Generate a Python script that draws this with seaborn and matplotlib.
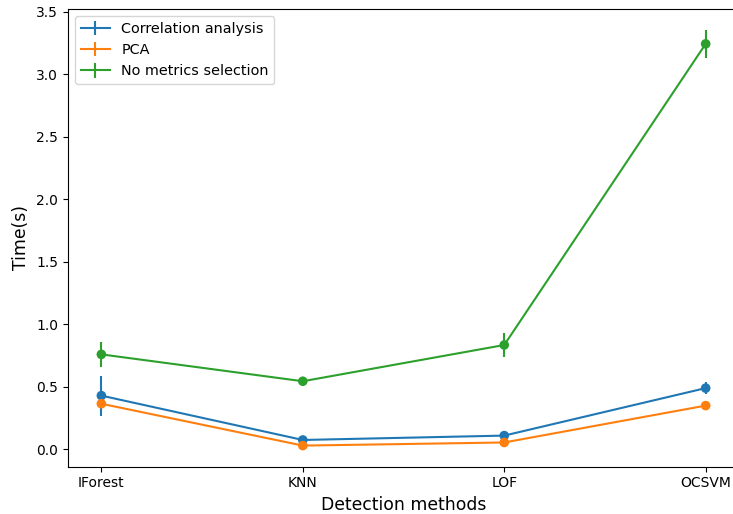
import matplotlib
matplotlib.use("Agg")
import matplotlib.pyplot as plt
import seaborn as sns
import numpy as np

methods = ["IForest", "KNN", "LOF", "OCSVM"]
series = ["Correlation analysis", "PCA", "No metrics selection"]
corr_vals = [0.43, 0.075, 0.11, 0.49]
corr_err = [0.16, 0.01, 0.015, 0.05]
pca_vals = [0.365, 0.03, 0.055, 0.35]
pca_err = [0.0, 0.0, 0.0, 0.0]
nms_vals = [0.76, 0.545, 0.835, 3.245]
nms_err = [0.1, 0.03, 0.1, 0.11]

plt.rcParams['font.family'] = ['DejaVu Sans']
palette = sns.color_palette("tab10")

fig = plt.figure(figsize=(7.33, 5.14), dpi=100)
ax = fig.add_axes([0.0924, 0.092, 0.9162, 0.8905])
x = np.arange(len(methods))
for i, (name, v, e) in enumerate(zip(series, [corr_vals, pca_vals, nms_vals], [corr_err, pca_err, nms_err])):
    ax.errorbar(x, v, yerr=e, color=palette[i], fmt='-', lw=1.5, label=name)
    sns.scatterplot(x=x, y=v, color=palette[i], s=48, edgecolor='none', ax=ax, zorder=3)
ax.set_xticks(x)
ax.set_xticklabels(methods)
ax.set_xlim(-0.167, 3.167)
ax.set_ylim(-0.139, 3.524)
ax.tick_params(labelsize=10)
ax.set_xlabel("Detection methods", fontsize=12.4)
ax.set_ylabel("Time(s)", fontsize=12.4)
ax.legend(loc="upper left", fontsize=10.4)
fig.savefig("out.png", dpi=100)
